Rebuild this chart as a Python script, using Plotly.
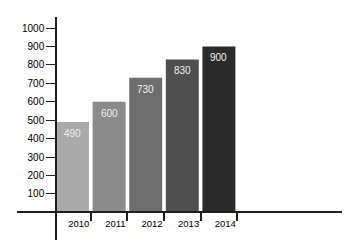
import plotly.graph_objects as go

years = ["2010", "2011", "2012", "2013", "2014"]
values = [490, 600, 730, 830, 900]
colors = ["#aaaaaa", "#8b8b8b", "#6e6e6e", "#4f4f4f", "#2b2b2b"]
ytick_vals = [100, 200, 300, 400, 500, 600, 700, 800, 900, 1000]

pos = list(range(len(years)))

fig = go.Figure()
fig.add_trace(go.Bar(
    x=pos, y=values,
    marker=dict(color=colors, line=dict(width=0)),
    width=0.9,
    hoverinfo="skip",
))

for p, v in zip(pos, values):
    fig.add_annotation(
        x=p, y=v, xref="x", yref="y", text=str(v), showarrow=False,
        yanchor="top", yshift=-4,
        font=dict(family="Liberation Sans, Arial, sans-serif", size=10, color="#f0f0f0"),
    )

axis_color = "#1e1e1e"
fig.update_layout(
    width=350, height=246,
    margin=dict(l=17, r=8, t=17, b=6),
    paper_bgcolor="white", plot_bgcolor="white",
    showlegend=False,
    font=dict(family="Liberation Sans, Arial, sans-serif", size=9.5, color="#000000"),
    xaxis=dict(
        range=[-1.516, 7.363],
        anchor="free", position=(240 - 212.4) / 223,
        showline=True, linecolor=axis_color, linewidth=1.5,
        showgrid=False, zeroline=False,
        tickmode="array", tickvals=[p + 0.5 for p in pos], ticktext=years,
        ticks="outside", ticklen=8, tickwidth=1.5,
        tickcolor=axis_color,
        ticklabelshift=-12, ticklabelstandoff=-6,
        tickfont=dict(size=9.5),
    ),
    yaxis=dict(
        range=[-150, 1060],
        anchor="free", position=(56 - 17) / 325,
        showline=True, linecolor=axis_color, linewidth=1.5,
        showgrid=False, zeroline=False,
        tickmode="array", tickvals=ytick_vals,
        ticks="outside", ticklen=9, tickwidth=1, tickcolor=axis_color,
        tickfont=dict(size=10),
    ),
)

fig.write_html("out.html")
